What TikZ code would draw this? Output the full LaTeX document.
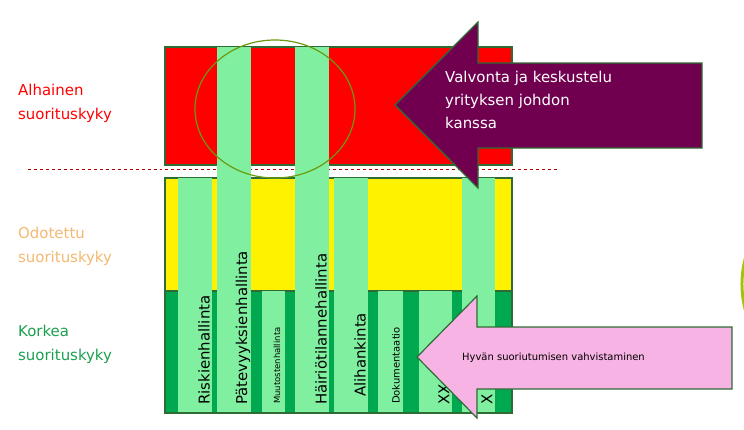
\documentclass[tikz,border=0pt]{standalone}
\usepackage{fontspec}
\setmainfont{DejaVu Sans}
\begin{document}
\begin{tikzpicture}[x=1bp,y=-1bp,
  strip/.style={fill=stripg,draw=none},
  big/.style={font=\fontsize{15}{15}\selectfont},
  vlab/.style={rotate=90,anchor=west,inner sep=0pt}]
\definecolor{stripg}{HTML}{80F0A0}
\definecolor{darkg}{HTML}{00A850}
\definecolor{boxline}{HTML}{2E6B35}
\definecolor{purp}{HTML}{70004F}
\definecolor{pinkc}{HTML}{F7B3E3}
\definecolor{orangel}{HTML}{F5B870}
\definecolor{greenl}{HTML}{1AA050}
\definecolor{olive}{HTML}{6A9A10}
\useasboundingbox (0,0) rectangle (744,429);
% boxes
\draw[fill=red,draw=boxline,line width=1.2] (165,47) rectangle (512,165);
\draw[fill=yellow,draw=boxline,line width=1.2] (165,178) rectangle (512,291);
\draw[fill=darkg,draw=boxline,line width=1.2] (165,291) rectangle (512,413);
\draw[red!70!black,dashed] (28,169) -- (558,169);
% strips
\fill[strip] (178,178) rectangle (212,412);
\fill[strip] (217,47) rectangle (251,412);
\fill[strip] (262,291) rectangle (285,412);
\fill[strip] (295,47) rectangle (329,412);
\fill[strip] (334,178) rectangle (368,412);
\fill[strip] (378,291) rectangle (403,412);
\fill[strip] (419,291) rectangle (452,412);
\fill[strip] (462,178) rectangle (495,412);
\node[vlab,big] (s1) at (204,405) {Riskienhallinta};
\node[vlab,big] (s2) at (243,405) {Pätevyyksienhallinta};
\node[vlab,font=\fontsize{8.5}{8.5}\selectfont] (s3) at (277,404) {Muutostenhallinta};
\node[vlab,big] (s4) at (321,405) {Häiriötilannehallinta};
\node[vlab,big] (s5) at (360,397) {Alihankinta};
\node[vlab,font=\fontsize{10}{10}\selectfont] (s6) at (396,404) {Dokumentaatio};
\node[vlab,big] (s7) at (444,405) {XX};
\node[vlab,big] (s8) at (487,405) {X};
% circle
\draw[olive,line width=1.2] (275,109) ellipse (80 and 69);
% arrows
\draw[fill=purp,draw=boxline,line width=1.2] (395,105) -- (478,22) -- (478,63) -- (702,63) -- (702,148) -- (478,148) -- (478,188) -- cycle;
\node[big,text=white,anchor=north west,align=left,inner sep=0pt,font=\fontsize{15}{23}\selectfont] (pt) at (445,71) {Valvonta ja keskustelu\\yrityksen johdon\\kanssa};
\draw[fill=pinkc,draw=boxline,line width=1.2] (417,357) -- (477,296) -- (477,327) -- (732,327) -- (732,389) -- (477,389) -- (477,418) -- cycle;
\node[anchor=west,inner sep=0pt,font=\fontsize{10}{10}\selectfont] (kt) at (462,358) {Hyvän suoriutumisen vahvistaminen};
% left labels
\node[anchor=north west,align=left,inner sep=0pt,text=red,font=\fontsize{15}{24}\selectfont] (l1) at (18,84) {Alhainen\\suorituskyky};
\node[anchor=north west,align=left,inner sep=0pt,text=orangel,font=\fontsize{15}{24}\selectfont] (l2) at (18,227) {Odotettu\\suorituskyky};
\node[anchor=north west,align=left,inner sep=0pt,text=greenl,font=\fontsize{15}{24}\selectfont] (l3) at (18,325) {Korkea\\suorituskyky};
% partial circle at right edge
\draw[olive!60!yellow,line width=3] (748,250) arc (200:160:100);
\end{tikzpicture}
\end{document}
